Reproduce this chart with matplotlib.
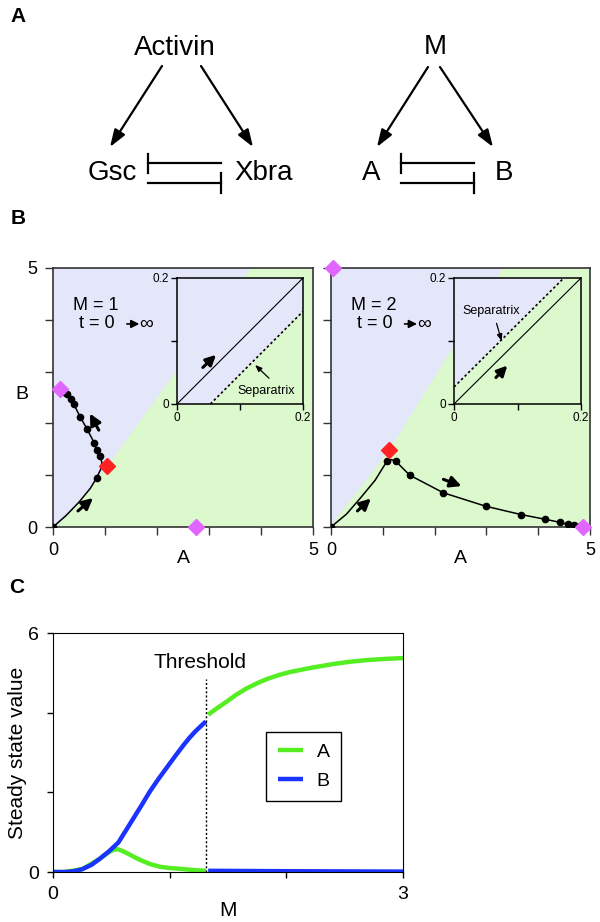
import numpy as np
import matplotlib
matplotlib.use('Agg')
from matplotlib import pyplot as plt

plt.rcParams['font.family'] = ['Liberation Sans', 'DejaVu Sans']

W, H = 600, 922
LAV = '#e4e6f9'
GRN = '#dcf8cd'
MAG = '#e066ff'
RED = '#ff2222'
C_A = '#55ee22'
C_B = '#1a33ff'

# panel A: node labels (x, y in pixels)
net_names = ['Activin', 'Gsc', 'Xbra', 'M', 'A', 'B']
net_x = [175, 112, 264, 435, 371, 504]
net_y = [48, 173, 173, 47, 173, 173]

# panel B: separatrix (main plots)
sep_l_a = [0.05, 0.5, 1.05, 3.8]
sep_l_b = [0.0, 0.5, 1.18, 5.0]
sep_r_a = [0.0, 1.12, 3.31]
sep_r_b = [0.03, 1.48, 5.0]

# panel B: trajectories
traj_l_a = [0, 0.25, 0.5, 0.72, 0.84, 0.92, 0.94, 0.90, 0.84, 0.79, 0.65, 0.52, 0.40, 0.34, 0.26, 0.22, 0.17, 0.13]
traj_l_b = [0, 0.22, 0.48, 0.75, 0.95, 1.12, 1.25, 1.37, 1.48, 1.63, 1.90, 2.13, 2.37, 2.47, 2.57, 2.60, 2.64, 2.67]
dots_l_a = [0, 0.84, 0.90, 0.84, 0.79, 0.65, 0.52, 0.40, 0.34, 0.26, 0.22]
dots_l_b = [0, 0.95, 1.37, 1.48, 1.63, 1.90, 2.13, 2.37, 2.47, 2.57, 2.60]

traj_r_a = [0, 0.3, 0.56, 0.85, 1.08, 1.17, 1.25, 1.52, 2.17, 2.99, 3.67, 4.13, 4.42, 4.57, 4.70, 4.80, 4.87]
traj_r_b = [0, 0.25, 0.55, 0.9, 1.27, 1.30, 1.27, 1.0, 0.66, 0.40, 0.24, 0.15, 0.09, 0.05, 0.03, 0.02, 0.0]
dots_r_a = [0, 1.08, 1.25, 1.52, 2.17, 2.99, 3.67, 4.13, 4.42, 4.57, 4.70, 4.80]
dots_r_b = [0, 1.27, 1.27, 1.0, 0.66, 0.40, 0.24, 0.15, 0.09, 0.05, 0.03, 0.02]

# steady states: red = saddle, magenta = stable
red_l = (1.04, 1.17)
mag_l_a = [0.13, 2.75]
mag_l_b = [2.67, 0.0]
red_r = (1.12, 1.48)
mag_r_a = [0.04, 4.87]
mag_r_b = [5.0, 0.0]

# insets: separatrix near origin
ins_sep_l_a = [0.053, 0.2]
ins_sep_l_b = [0.0, 0.147]
ins_sep_r_a = [0.0, 0.173]
ins_sep_r_b = [0.027, 0.2]

# panel C
m_a1 = [0, 0.1, 0.25, 0.40, 0.48, 0.52, 0.56, 0.60, 0.65, 0.70, 0.75, 0.83, 0.92, 1.0, 1.09, 1.2, 1.31]
v_a1 = [0, 0, 0.07, 0.33, 0.50, 0.56, 0.57, 0.52, 0.45, 0.37, 0.30, 0.20, 0.13, 0.10, 0.08, 0.05, 0.03]
m_a2 = [1.33, 1.41, 1.49, 1.57, 1.66, 1.75, 1.83, 1.93, 2.03, 2.2, 2.4, 2.55, 2.69, 2.85, 3.0]
v_a2 = [3.95, 4.12, 4.28, 4.45, 4.61, 4.74, 4.84, 4.94, 5.02, 5.12, 5.22, 5.28, 5.32, 5.35, 5.37]
m_b1 = [0, 0.1, 0.18, 0.25, 0.33, 0.40, 0.48, 0.56, 0.62, 0.69, 0.76, 0.83, 0.90, 0.97, 1.05, 1.12, 1.17, 1.22, 1.27, 1.31]
v_b1 = [0, 0, 0.02, 0.07, 0.18, 0.33, 0.52, 0.74, 1.02, 1.35, 1.68, 2.02, 2.32, 2.60, 2.92, 3.19, 3.37, 3.53, 3.67, 3.78]
m_b2 = [1.33, 2.0, 3.0]
v_b2 = [0.03, 0.02, 0.01]
threshold = 1.31


def rect(x0, y0, x1, y1):
    return [x0 / W, 1 - y1 / H, (x1 - x0) / W, (y1 - y0) / H]


def arrow(ax, p0, p1, lw=2.2, ms=11, **kw):
    ax.annotate('', xy=p1, xytext=p0,
                arrowprops=dict(arrowstyle='-|>,head_length=0.6,head_width=0.3',
                                color='k', lw=lw, mutation_scale=ms,
                                shrinkA=0, shrinkB=0), **kw)


fig = plt.figure(figsize=(W / 100, H / 100), dpi=100)


def phase_panel(box, sep_a, sep_b, ta, tb, da, db, red, ma, mb, arrows, mlabel, ylab):
    ax = fig.add_axes(rect(*box))
    ax.set_facecolor(GRN)
    ax.fill([0] + sep_a + [0], [sep_b[0]] + sep_b + [5], color=LAV, lw=0, zorder=0)
    if sep_a[0] > 0:
        ax.fill([0, sep_a[0], 0], [0, 0, 5], color=LAV, lw=0, zorder=0)
    ax.plot(ta, tb, color='k', lw=1.1, zorder=3)
    ax.plot(da, db, 'o', color='k', ms=4.5, zorder=4)
    ax.plot(ma, mb, 'D', color=MAG, ms=8, zorder=5, clip_on=False)
    ax.plot([red[0]], [red[1]], 'D', color=RED, ms=8, zorder=5)
    for p0, p1 in arrows:
        arrow(ax, p0, p1)
    ax.text(0.83, 4.27, mlabel, fontsize=13, ha='center', va='center')
    ax.text(0.85, 3.92, 't = 0', fontsize=13, ha='center', va='center')
    arrow(ax, (1.42, 3.92), (1.66, 3.92), lw=1.2, ms=8)
    ax.text(1.79, 3.92, '\u221e', fontsize=14, ha='center', va='center')
    ax.set_xlim(0, 5)
    ax.set_ylim(0, 5)
    ax.set_xticks(range(6))
    ax.set_xticklabels(['0', '', '', '', '', '5'])
    ax.set_yticks(range(6))
    ax.set_yticklabels(['0', '', '', '', '', '5'] if ylab else [])
    ax.tick_params(direction='out', length=6, width=1, colors='#333333',
                   labelcolor='k', labelsize=13, pad=5)
    for s in ax.spines.values():
        s.set_color('#333333')
        s.set_linewidth(1.2)
    ax.text(0.5, -0.12, 'A', transform=ax.transAxes, fontsize=14, ha='center', va='center')
    if ylab:
        ax.text(-0.12, 0.51, 'B', transform=ax.transAxes, fontsize=14, ha='center', va='center')
    return ax


def inset(box, sa, sb, above_lav, arr, txt, txt_arr, txt_ha):
    ax = fig.add_axes(rect(*box))
    ax.set_facecolor(GRN)
    if above_lav:
        ax.fill([0, sa[0], sa[1], 0.2, 0], [0, sb[0], sb[1], 0.2, 0.2], color=LAV, lw=0)
    else:
        ax.fill([sa[0], sa[1], 0], [sb[0], sb[1], 0.2], color=LAV, lw=0)
    ax.plot([0, 0.2], [0, 0.2], color='k', lw=0.8)
    ax.plot(sa, sb, color='k', lw=1.2, ls=(0, (1.5, 1.5)))
    arrow(ax, arr[0], arr[1], lw=2.2, ms=10)
    ax.text(txt[0], txt[1], 'Separatrix', fontsize=9, ha=txt_ha, va='center')
    ax.annotate('', xy=txt_arr[1], xytext=txt_arr[0],
                arrowprops=dict(arrowstyle='-|>,head_length=0.5,head_width=0.2',
                                color='k', lw=0.9, mutation_scale=8, shrinkA=0, shrinkB=0))
    ax.set_xlim(0, 0.2)
    ax.set_ylim(0, 0.2)
    ax.set_xticks([0, 0.1, 0.2])
    ax.set_xticklabels(['0', '', '0.2'])
    ax.set_yticks([0, 0.1, 0.2])
    ax.set_yticklabels(['0', '', '0.2'])
    ax.tick_params(direction='out', length=4, width=1, labelsize=8.5, pad=2)
    for s in ax.spines.values():
        s.set_linewidth(1.1)
    return ax


phase_panel((53, 268, 313, 527), sep_l_a, sep_l_b, traj_l_a, traj_l_b,
            dots_l_a, dots_l_b, red_l, mag_l_a, mag_l_b,
            [((0.48, 0.31), (0.77, 0.56)), ((0.88, 1.87), (0.71, 2.19))], 'M = 1', True)
phase_panel((331, 268, 590, 527), sep_r_a, sep_r_b, traj_r_a, traj_r_b,
            dots_r_a, dots_r_b, red_r, mag_r_a, mag_r_b,
            [((0.51, 0.31), (0.77, 0.55)), ((2.17, 0.92), (2.52, 0.79))], 'M = 2', False)

inset((177, 278, 303, 404), ins_sep_l_a, ins_sep_l_b, True,
      ((0.041, 0.058), (0.062, 0.078)), (0.141, 0.02),
      ((0.146, 0.041), (0.124, 0.062)), 'center')
inset((454, 278, 581, 404), ins_sep_r_a, ins_sep_r_b, False,
      ((0.066, 0.042), (0.084, 0.061)), (0.058, 0.148),
      ((0.067, 0.128), (0.075, 0.100)), 'center')

# panel C
axc = fig.add_axes(rect(53, 633, 403, 872))
axc.plot(m_a1, v_a1, color=C_A, lw=3.2, solid_capstyle='butt')
axc.plot(m_b1, v_b1, color=C_B, lw=3.2, solid_capstyle='butt')
axc.plot(m_a2, v_a2, color=C_A, lw=3.2, label='A', solid_capstyle='butt')
axc.plot(m_b2, v_b2, color=C_B, lw=3.2, label='B', solid_capstyle='butt')
axc.plot([threshold, threshold], [0, 4.85], color='k', lw=1, ls=(0, (1.5, 1.5)))
axc.text(1.26, 5.25, 'Threshold', fontsize=15, ha='center', va='center')
axc.set_xlim(0, 3)
axc.set_ylim(0, 6)
axc.set_xticks([0, 1, 2, 3])
axc.set_xticklabels(['0', '', '', '3'])
axc.set_yticks([0, 2, 4, 6])
axc.set_yticklabels(['0', '', '', '6'])
axc.tick_params(direction='out', length=4, width=1, labelsize=14, pad=6)
axc.text(0.5, -0.16, 'M', transform=axc.transAxes, fontsize=15, ha='center', va='center')
axc.text(-0.1, 0.5, 'Steady state value', transform=axc.transAxes, fontsize=15,
         rotation=90, ha='center', va='center')
leg = axc.legend(loc='upper left', bbox_to_anchor=(0.609, 0.586), fontsize=14,
                 fancybox=False, edgecolor='k', framealpha=1, handlelength=1.3,
                 borderpad=0.6, labelspacing=0.55, handletextpad=0.7,
                 borderaxespad=0)
leg.get_frame().set_linewidth(1)

# overlay for panel A and panel letters
ov = fig.add_axes([0, 0, 1, 1])
ov.set_xlim(0, W)
ov.set_ylim(H, 0)
ov.axis('off')
ov.patch.set_visible(False)
for name, x, y in zip(net_names, net_x, net_y):
    ov.text(x, y, name, fontsize=20, ha='center', va='center')
for x0, y0, x1, y1 in [(162, 66, 110, 147), (201, 66, 253, 147),
                       (428, 67, 377, 147), (440, 67, 493, 147)]:
    ov.annotate('', xy=(x1, y1), xytext=(x0, y0),
                arrowprops=dict(arrowstyle='-|>,head_length=0.8,head_width=0.28',
                                color='k', lw=1.6, mutation_scale=13,
                                shrinkA=0, shrinkB=0))
for xl, xr in [(148, 221), (401, 474)]:
    ov.plot([xl, xr], [163, 163], color='k', lw=1.6)
    ov.plot([xl, xl], [154, 173], color='k', lw=1.6)
    ov.plot([xl, xr], [183, 183], color='k', lw=1.6)
    ov.plot([xr, xr], [173, 193], color='k', lw=1.6)
for lab, x, y in [('A', 18, 16), ('B', 18, 218), ('C', 17, 587)]:
    ov.text(x, y, lab, fontsize=15, fontweight='bold', ha='center', va='center')

fig.savefig('out.png', dpi=100)
